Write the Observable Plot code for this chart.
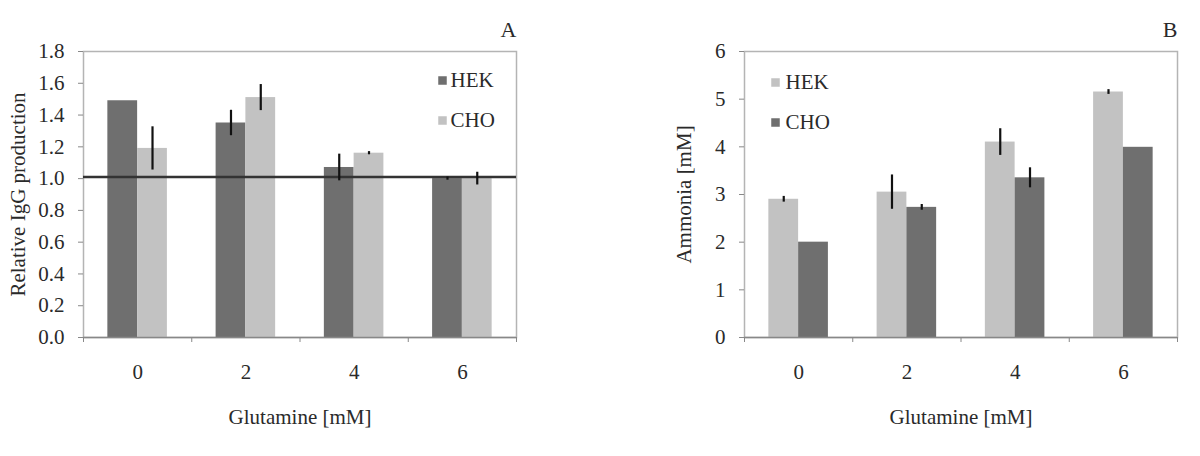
<!DOCTYPE html>
<html>
<head>
<meta charset="utf-8">
<script src="https://cdn.jsdelivr.net/npm/d3@7"></script>
<script src="https://cdn.jsdelivr.net/npm/@observablehq/plot@0.6"></script>
<style>
  body { margin: 0; background: #fff; }
  #wrap { display: flex; width: 1200px; height: 456px; }
</style>
</head>
<body>
<div id="wrap"></div>
<script>
// ---- data ----
const glutamine = [0, 2, 4, 6];
const series = ["HEK", "CHO"];
const xTickMarks = [-1, 1, 3, 5, 7];

// Panel A: relative IgG production
const iggHek = [1.49, 1.35, 1.07, 1.00];
const iggHekErr = [0, 0.08, 0.084, 0.01];
const iggCho = [1.19, 1.51, 1.16, 1.00];
const iggChoErr = [0.136, 0.082, 0.01, 0.04];
const iggReference = [1.01];
const iggTicks = [0, 0.2, 0.4, 0.6, 0.8, 1.0, 1.2, 1.4, 1.6, 1.8];

// Panel B: ammonia
const ammHek = [2.90, 3.05, 4.10, 5.15];
const ammHekErr = [0.06, 0.36, 0.28, 0.05];
const ammCho = [2.00, 2.73, 3.35, 3.99];
const ammChoErr = [0, 0.06, 0.21, 0];
const ammTicks = [0, 1, 2, 3, 4, 5, 6];

// ---- styling ----
const dark = "#6f6f6f";
const light = "#c2c2c2";
const half = 0.55; // bar width in x units
const font = "'Liberation Serif', 'Times New Roman', serif";
const fs = 21;

function rows(vals, errs, s) {
  return glutamine.map((g, i) => ({gl: g, series: s, value: vals[i], err: errs[i]}));
}

function panel(o) {
  const hek = rows(o.hek, o.hekErr, "HEK");
  const cho = rows(o.cho, o.choErr, "CHO");
  const xOf = d => d.gl + (d.series === "HEK" ? -half / 2 : half / 2);
  const x1 = d => d.gl + (d.series === "HEK" ? -half : 0);
  const x2 = d => d.gl + (d.series === "HEK" ? 0 : half);
  const errs = hek.concat(cho).filter(d => d.err > 0);
  const la = o.legendAnchor;
  const ly = o.legendY;
  const legend = [
    Plot.dot([0], {frameAnchor: la, dx: o.legendDx[0], dy: ly[0], symbol: "square", r: 4.8, fill: o.hekColor}),
    Plot.text(["HEK"], {frameAnchor: la, dx: o.legendDx[1], dy: ly[0], textAnchor: "start", lineAnchor: "middle", fontSize: fs}),
    Plot.dot([0], {frameAnchor: la, dx: o.legendDx[0], dy: ly[1], symbol: "square", r: 4.8, fill: o.choColor}),
    Plot.text(["CHO"], {frameAnchor: la, dx: o.legendDx[1], dy: ly[1], textAnchor: "start", lineAnchor: "middle", fontSize: fs})
  ];
  return Plot.plot({
    width: 600,
    height: 456,
    marginLeft: o.marginLeft,
    marginRight: o.marginRight,
    marginTop: 51,
    marginBottom: 119,
    x: {domain: [-1, 7], axis: null},
    y: {domain: o.yDomain, axis: null},
    style: {fontFamily: font, fontSize: fs + "px", color: "#2a2a2a", background: "#fff"},
    marks: [
      Plot.frame({stroke: "#b4b4b4", strokeWidth: 1.5}),
      Plot.rect(hek, {x1, x2, y1: 0, y2: "value", fill: o.hekColor}),
      Plot.rect(cho, {x1, x2, y1: 0, y2: "value", fill: o.choColor}),
      ...(o.refLine ? [Plot.ruleY(o.refLine, {stroke: "#333", strokeWidth: 2.5})] : []),
      Plot.ruleX(errs, {x: xOf, y1: d => d.value - d.err, y2: d => d.value + d.err, stroke: "#111", strokeWidth: 2.2}),
      Plot.ruleY([0], {stroke: "#888", strokeWidth: 1.5}),
      Plot.axisY({ticks: o.yTicks, tickFormat: o.yFormat, tickSize: 5, tickPadding: 14, label: null, stroke: "#888", fontSize: fs}),
      Plot.axisX({ticks: xTickMarks, tickSize: 5, tickFormat: () => "", label: null, stroke: "#888"}),
      Plot.axisX({ticks: glutamine, tickSize: 0, tickPadding: 27, label: null, fontSize: fs}),
      Plot.text([o.yLabel], {frameAnchor: "left", textAnchor: "middle", lineAnchor: "middle", rotate: -90, dx: o.yLabelDx, fontSize: fs}),
      Plot.text(["Glutamine [mM]"], {frameAnchor: "bottom", textAnchor: "middle", lineAnchor: "middle", dy: 80, fontSize: fs}),
      Plot.text([o.title], {frameAnchor: "top-right", textAnchor: "end", lineAnchor: "middle", dy: -22, fontSize: fs + 1}),
      ...legend
    ]
  });
}

const wrap = document.getElementById("wrap");
wrap.append(panel({
  hek: iggHek, hekErr: iggHekErr, cho: iggCho, choErr: iggChoErr,
  hekColor: dark, choColor: light,
  yDomain: [0, 1.8], yTicks: iggTicks, yFormat: ".1f",
  refLine: iggReference,
  marginLeft: 83, marginRight: 84,
  yLabel: "Relative IgG production", yLabelDx: -65,
  title: "A", legendAnchor: "top-right", legendDx: [-74, -66], legendY: [29, 69]
}));
wrap.append(panel({
  hek: ammHek, hekErr: ammHekErr, cho: ammCho, choErr: ammChoErr,
  hekColor: light, choColor: dark,
  yDomain: [0, 6], yTicks: ammTicks, yFormat: "d",
  refLine: null,
  marginLeft: 144, marginRight: 23,
  yLabel: "Ammonia [mM]", yLabelDx: -60,
  title: "B", legendAnchor: "top-left", legendDx: [31, 41], legendY: [31, 71]
}));
</script>
</body>
</html>
